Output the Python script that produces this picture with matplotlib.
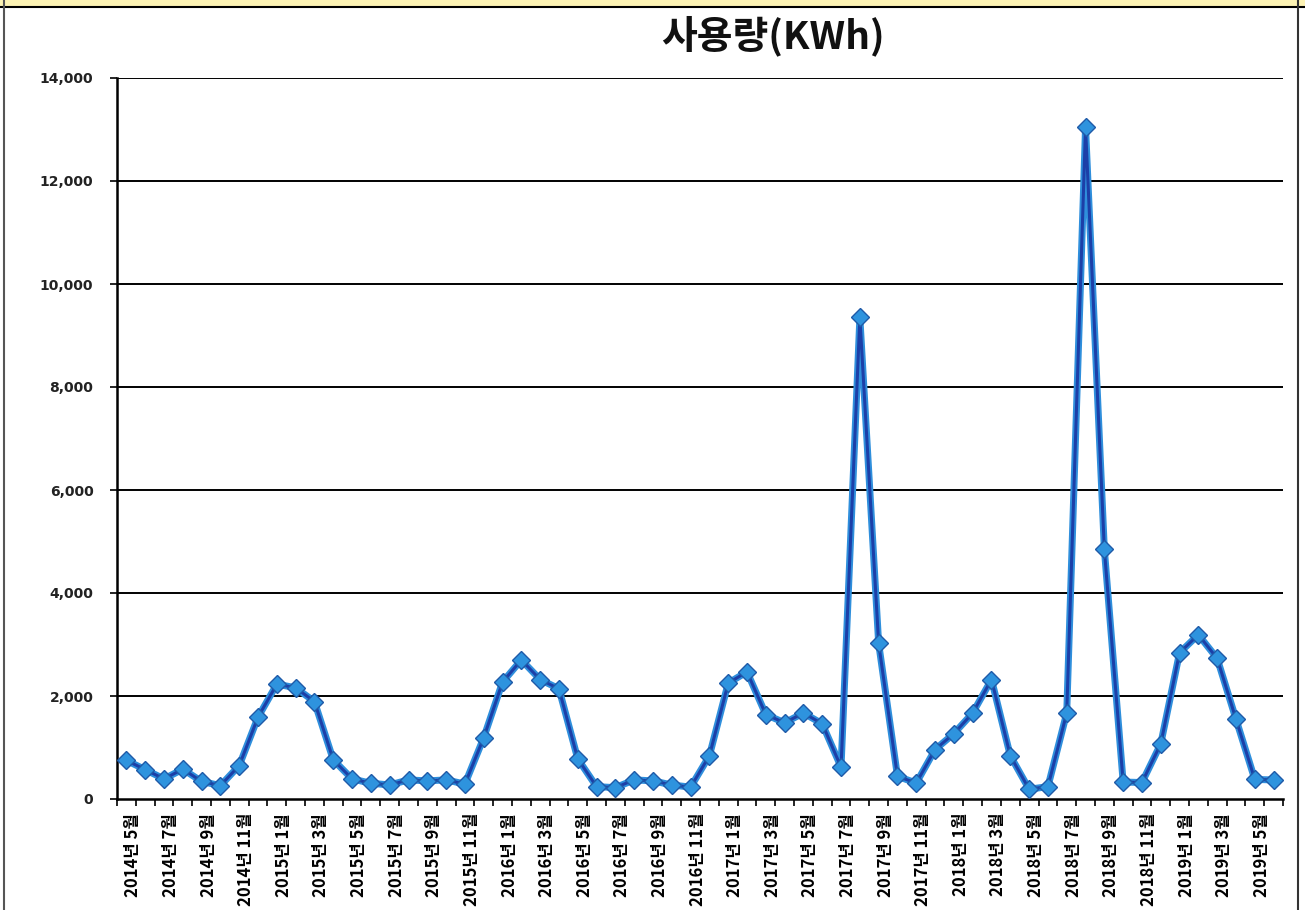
import matplotlib
matplotlib.use('Agg')
import matplotlib.pyplot as plt
import matplotlib.transforms as mtransforms
from matplotlib.patches import Rectangle
from matplotlib.lines import Line2D

plt.rcParams['font.family'] = ['Noto Sans CJK KR', 'DejaVu Sans']

# Monthly usage, 2014-05 .. 2019-06
months = []
for y in range(2014, 2020):
    for m in range(1, 13):
        if (y == 2014 and m < 5) or (y == 2019 and m > 6):
            continue
        months.append(f'{y}년 {m}월')

usage = [750, 570, 390, 580, 340, 260, 650, 1590, 2230, 2160, 1890, 760,
         390, 306, 273, 371, 352, 371, 290, 1190, 2270, 2700, 2320, 2140,
         780, 240, 221, 371, 352, 273, 230, 840, 2250, 2470, 1640, 1480,
         1670, 1460, 620, 9350, 3020, 440, 310, 960, 1270, 1670, 2320, 840,
         190, 240, 1670, 13050, 4850, 330, 320, 1070, 2840, 3190, 2730, 1550,
         380, 370]

yticks = list(range(0, 14001, 2000))

W, H = 1305, 910
fig = plt.figure(figsize=(W / 100, H / 100), dpi=100)
ax = fig.add_axes([117 / W, 1 - 799 / H, (1283 - 117) / W, (799 - 78) / H])

x = list(range(len(usage)))

# grid lines
for v in yticks[1:]:
    ax.axhline(v, color='black', lw=1.4, zorder=1)

# line drawn as light outline + dark core
ax.plot(x, usage, color='#2f8fdc', lw=5, zorder=2, solid_joinstyle='round')
ax.plot(x, usage, color='#1c3fa8', lw=2.2, zorder=3, solid_joinstyle='round')
ax.plot(x, usage, linestyle='none', marker='D', markersize=9,
        markerfacecolor='#2e93de', markeredgecolor='#1f5aa8', markeredgewidth=1.0, zorder=4)

ax.set_xlim(-0.5, len(usage) - 0.5)
ax.set_ylim(0, 14000)

for s in ['top', 'right']:
    ax.spines[s].set_visible(False)
ax.spines['left'].set_linewidth(1.8)
ax.spines['bottom'].set_linewidth(1.8)

ax.set_yticks(yticks)
ax.set_yticklabels([f'{v:,}' for v in yticks], fontsize=10, fontweight='bold',
                   family='DejaVu Sans', color='#222222')
ax.tick_params(axis='y', length=5, width=1.2, pad=12)

lab_idx = list(range(0, len(usage), 2))
ax.set_xticks(lab_idx)
ax.set_xticklabels([months[i] for i in lab_idx], rotation=90, fontsize=12,
                   fontweight='bold', va='top', ha='center')
ax.set_xticks([i - 0.5 for i in range(len(usage) + 1)], minor=True)
ax.tick_params(axis='x', which='major', length=0, pad=10)
ax.tick_params(axis='x', which='minor', length=5, width=1.2)
off = mtransforms.ScaledTranslation(7 / 100, 0, fig.dpi_scale_trans)
for t in ax.get_xticklabels():
    t.set_transform(t.get_transform() + off)

fig.text(773 / W, 1 - 36 / H, '사용량(KWh)', fontsize=28, fontweight='bold',
         ha='center', va='center', color='#111111')

# frame of the original document
fig.patches.append(Rectangle((0, 1 - 7 / H), 1, 7 / H, transform=fig.transFigure,
                             facecolor='#fdf3b4', edgecolor='none'))
fig.lines.append(Line2D([0, 1], [1 - 7 / H, 1 - 7 / H], transform=fig.transFigure,
                        color='black', lw=1.5))
fig.lines.append(Line2D([4 / W, 4 / W], [0, 1], transform=fig.transFigure,
                        color='#555555', lw=1.5))
fig.lines.append(Line2D([1298 / W, 1298 / W], [0, 1], transform=fig.transFigure,
                        color='#333333', lw=1.5))

fig.savefig('out.png', dpi=100)
